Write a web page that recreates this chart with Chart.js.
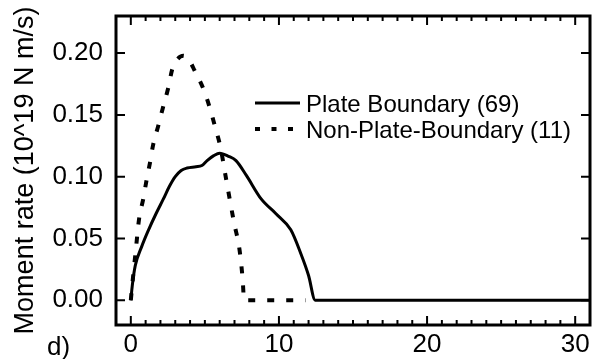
<!DOCTYPE html>
<html>
<head>
<meta charset="utf-8">
<title>Moment rate</title>
<script src="https://cdn.jsdelivr.net/npm/chart.js@4.4.0/dist/chart.umd.min.js"></script>
<style>
  html, body { margin: 0; padding: 0; background: #fff; }
  #wrap { width: 599px; height: 359px; }
</style>
</head>
<body>
<div id="wrap"><canvas id="momentChart"></canvas></div>
<script>
const FONT = "'Liberation Sans', Arial, Helvetica, sans-serif";

// averaged source time functions (time in s, rate in 10^19 N m/s)
const plateTime = [0, 0.1, 0.3, 0.72, 1.2, 1.7, 2.2, 2.6, 3.0, 3.4, 3.8, 4.4, 4.8, 5.15, 5.6, 6.0, 6.6, 7.1, 7.8, 8.8, 9.8, 10.8, 11.5, 12.0, 12.45, 31];
const plateRate = [0, 0.012, 0.028, 0.043, 0.057, 0.07, 0.082, 0.092, 0.1, 0.105, 0.107, 0.108, 0.109, 0.113, 0.117, 0.119, 0.1165, 0.113, 0.101, 0.082, 0.07, 0.057, 0.037, 0.02, 0, 0];

const nonPlateTime = [0, 0.16, 0.34, 0.56, 0.84, 1.06, 1.29, 1.51, 1.85, 2.15, 2.53, 2.8, 3.15, 3.55, 3.95, 4.3, 4.9, 5.35, 5.7, 6.05, 6.45, 6.95, 7.35, 7.55, 7.65, 11.8];
const nonPlateRate = [0, 0.02, 0.041, 0.066, 0.082, 0.097, 0.111, 0.126, 0.141, 0.155, 0.172, 0.187, 0.195, 0.1978, 0.194, 0.186, 0.171, 0.155, 0.14, 0.124, 0.097, 0.064, 0.04, 0.017, 0, 0];

const seriesLabels = ["Plate Boundary (69)", "Non-Plate-Boundary (11)"];
const xMajorTicks = [0, 10, 20, 30];
const xMinorTicks = Array.from({ length: 31 }, (_, i) => i);
const yTicks = [0, 0.05, 0.1, 0.15, 0.2];
const panelLabel = "d)";
const yTitle = "Moment rate (10^19 N m/s)";

const toPoints = (xs, ys) => xs.map((x, i) => ({ x, y: ys[i] }));

// boxed frame with inward ticks, inset legend and panel letter
const framePlugin = {
  id: "frame",
  afterDatasetsDraw(chart) {
    const { ctx, chartArea: a, scales: { x, y } } = chart;
    ctx.save();
    ctx.strokeStyle = "#000";
    ctx.lineCap = "butt";

    ctx.lineWidth = 2;
    ctx.beginPath();
    yTicks.forEach(v => {
      const py = y.getPixelForValue(v);
      ctx.moveTo(a.left, py); ctx.lineTo(a.left + 9, py);
      ctx.moveTo(a.right, py); ctx.lineTo(a.right - 9, py);
    });
    xMinorTicks.forEach(v => {
      const len = xMajorTicks.includes(v) ? 9 : 5;
      const px = x.getPixelForValue(v);
      ctx.moveTo(px, a.bottom); ctx.lineTo(px, a.bottom - len);
      ctx.moveTo(px, a.top); ctx.lineTo(px, a.top + len);
    });
    ctx.stroke();

    ctx.lineWidth = 3;
    ctx.strokeRect(a.left, a.top, a.width, a.height);

    // legend
    ctx.font = "24px " + FONT;
    ctx.fillStyle = "#000";
    ctx.textBaseline = "alphabetic";
    chart.data.datasets.forEach((ds, i) => {
      const ly = a.top + 87 + i * 26;
      const lx = a.left + 139;
      ctx.beginPath();
      ctx.lineWidth = ds.borderWidth;
      ctx.setLineDash(i === 0 ? [] : [5, 11.5]);
      ctx.moveTo(lx, ly);
      ctx.lineTo(lx + 45, ly);
      ctx.stroke();
      ctx.setLineDash([]);
      ctx.fillText(ds.label, lx + 51, ly + 9);
    });

    ctx.font = "26px " + FONT;
    ctx.fillText(panelLabel, 47, 355);
    ctx.restore();
  }
};

new Chart(document.getElementById("momentChart"), {
  type: "line",
  data: {
    datasets: [
      {
        label: seriesLabels[0],
        data: toPoints(plateTime, plateRate),
        borderColor: "#000",
        borderWidth: 3,
        pointRadius: 0,
        cubicInterpolationMode: "monotone"
      },
      {
        label: seriesLabels[1],
        data: toPoints(nonPlateTime, nonPlateRate),
        borderColor: "#000",
        borderWidth: 4,
        borderDash: [7, 12],
        borderCapStyle: "butt",
        pointRadius: 0,
        cubicInterpolationMode: "monotone"
      }
    ]
  },
  options: {
    responsive: true,
    maintainAspectRatio: false,
    animation: false,
    layout: { padding: { top: 16, right: 9, left: 0, bottom: 0 } },
    plugins: { legend: { display: false }, tooltip: { enabled: false } },
    scales: {
      x: {
        type: "linear",
        min: -1,
        max: 31,
        grid: { display: false, drawTicks: false },
        border: { display: false },
        ticks: { color: "#000", font: { family: FONT, size: 26 }, padding: 4, maxRotation: 0, autoSkip: false },
        afterBuildTicks: s => { s.ticks = xMajorTicks.map(v => ({ value: v })); },
        afterFit: s => { s.height = 34; s.paddingLeft = 0; s.paddingRight = 0; }
      },
      y: {
        type: "linear",
        min: -0.02,
        max: 0.23,
        grid: { display: false, drawTicks: false },
        border: { display: false },
        ticks: { color: "#000", font: { family: FONT, size: 26 }, padding: 13, callback: v => v.toFixed(2) },
        title: { display: true, text: yTitle, color: "#000", font: { family: FONT, size: 27 }, padding: { top: 9, bottom: 0 } },
        afterBuildTicks: s => { s.ticks = yTicks.map(v => ({ value: v })); },
        afterFit: s => { s.width = 116; s.paddingTop = 0; s.paddingBottom = 0; }
      }
    }
  },
  plugins: [framePlugin]
});
</script>
</body>
</html>
